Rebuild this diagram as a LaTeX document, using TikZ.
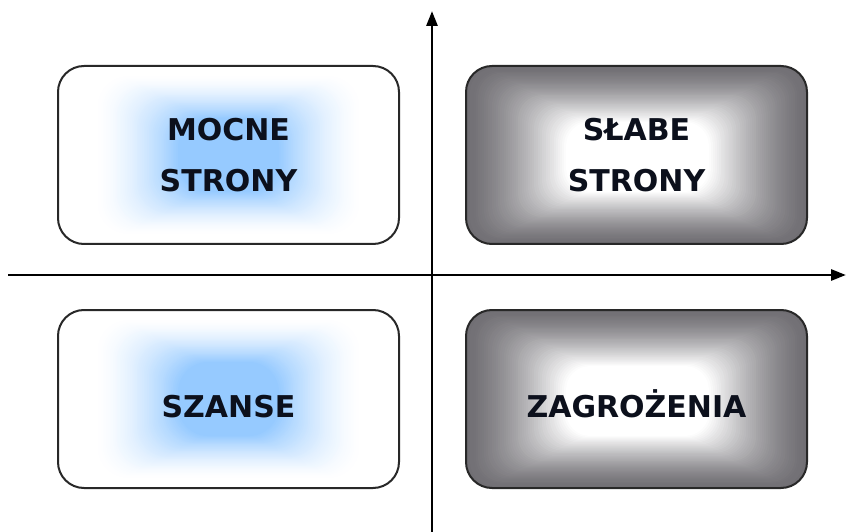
\documentclass[tikz,border=0pt]{standalone}
\usepackage{fontspec}
\setmainfont{DejaVu Sans}
\usetikzlibrary{arrows.meta,calc}
\definecolor{edgegray}{RGB}{112,110,115}
\definecolor{glowblue}{RGB}{150,202,255}
\definecolor{boxline}{RGB}{40,40,40}
\definecolor{txt}{RGB}{12,16,28}
\tikzset{
  quad/.style={draw=boxline, line width=2pt, rounded corners=26pt,
    minimum width=341pt, minimum height=178pt, align=center,
    font=\fontsize{30}{51}\selectfont\bfseries, text=txt, inner sep=0pt},
  grayglowpic/.style={path picture={
    \foreach \i in {0,...,50}{
      \pgfmathsetmacro\t{\i/50}
      \pgfmathtruncatemacro\p{100*(1-\t^1.4)}
      \fill[edgegray!\p!white, rounded corners=24pt]
        ($(path picture bounding box.north west)+({100*\t},{56*\t})$) rectangle
        ($(path picture bounding box.south east)-({98*\t},{52*\t})$);
    }}},
  blueglowpic/.style={path picture={
    \foreach \i in {0,...,50}{
      \pgfmathsetmacro\t{\i/50}
      \pgfmathtruncatemacro\p{100*\t^1.6}
      \fill[glowblue!\p!white, rounded corners=30pt]
        ($(path picture bounding box.north west)+({35+85*\t},{8+44*\t})$) rectangle
        ($(path picture bounding box.south east)-({35+85*\t},{8+44*\t})$);
    }}},
  posquad/.style={quad, fill=white, blueglowpic},
  negquad/.style={quad, fill=white, grayglowpic},
  lowtext/.style={text height=36pt, text depth=0pt},
  axis/.style={line width=2.8pt, -{Triangle[length=15pt,width=11pt]}}
}
\begin{document}
\begin{tikzpicture}[x=1pt,y=-1pt]
\useasboundingbox (0,0) rectangle (847,532);
\fill[white] (0,0) rectangle (847,532);
\coordinate (xs) at (8,275);
\coordinate (xe) at (846,275);
\coordinate (ys) at (432,532);
\coordinate (ye) at (432,11);
\draw[axis] (xs) -- (xe);
\draw[axis] (ys) -- (ye);
\node[posquad] (mocne) at (228.5,155) {MOCNE\\STRONY};
\node[negquad] (slabe) at (636.5,155) {SŁABE\\STRONY};
\node[posquad, lowtext] (szanse) at (228.5,399) {SZANSE};
\node[negquad, lowtext] (zagr) at (636.5,399) {ZAGROŻENIA};
\end{tikzpicture}
\end{document}
